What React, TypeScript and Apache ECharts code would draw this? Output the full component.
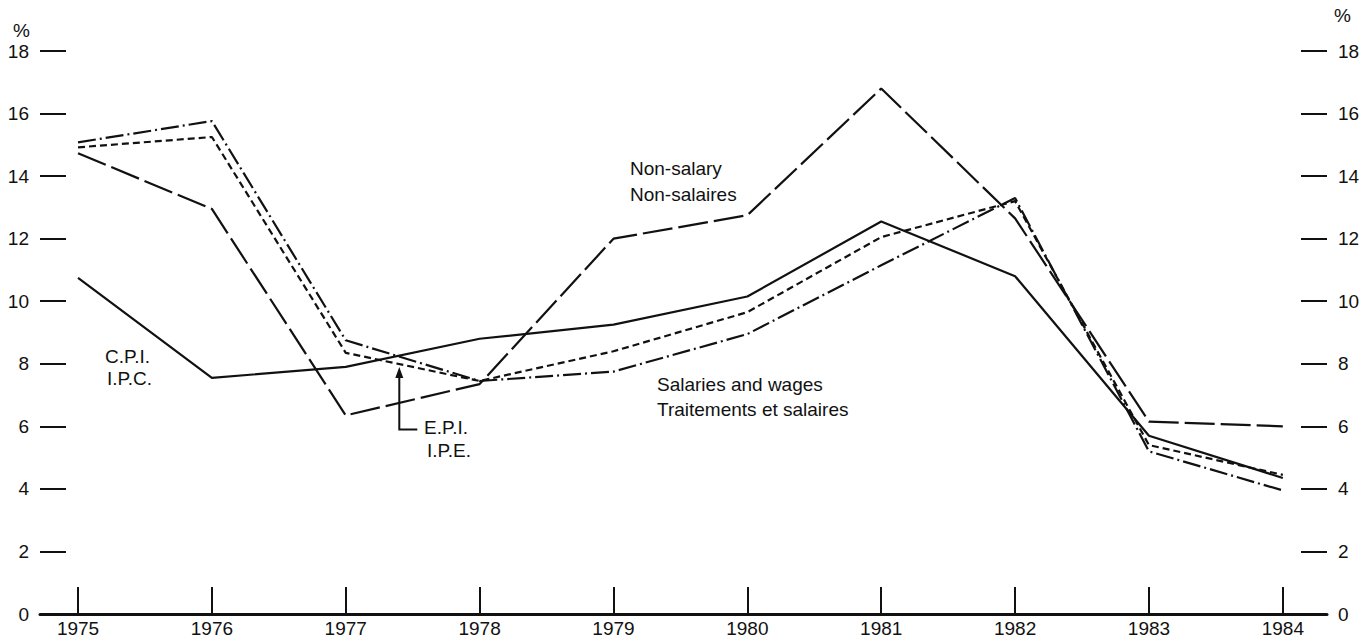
import React, { useEffect, useRef } from "react";
import * as echarts from "echarts";

const years = [1975, 1976, 1977, 1978, 1979, 1980, 1981, 1982, 1983, 1984];
const yTicks = [0, 2, 4, 6, 8, 10, 12, 14, 16, 18];
const cpi = [10.75, 7.55, 7.9, 8.8, 9.25, 10.15, 12.55, 10.8, 5.7, 4.35];
const epi = [14.92, 15.25, 8.35, 7.45, 8.4, 9.65, 12.05, 13.2, 5.4, 4.45];
const salaries = [15.08, 15.76, 8.75, 7.45, 7.75, 8.95, 11.15, 13.3, 5.2, 3.95];
const nonSalary = [14.73, 12.95, 6.35, 7.35, 12.0, 12.75, 16.8, 12.65, 6.15, 6.0];

const FONT = "Liberation Sans, Arial, Helvetica, sans-serif";
const INK = "#111";

const pairs = (vals: number[]) => years.map((y, i) => [y, vals[i]]);

export default function App() {
  const ref = useRef<HTMLDivElement>(null);
  useEffect(() => {
    const chart = echarts.init(ref.current!, null, { renderer: "svg" });
    const lineSeries = (name: string, vals: number[], type: any, width: number) => ({
      name,
      type: "line",
      data: pairs(vals),
      symbol: "none",
      lineStyle: { color: INK, width, type },
      silent: true,
    });
    const yAxisCommon = {
      type: "value",
      min: yTicks[0],
      max: yTicks[yTicks.length - 1],
      interval: 2,
      axisLine: { show: false },
      splitLine: { show: false },
      axisTick: { show: true, inside: true, length: 26, lineStyle: { color: INK, width: 2 } },
      axisLabel: { color: INK, fontSize: 19, fontFamily: FONT, margin: 11 },
    };
    chart.setOption({
      animation: false,
      backgroundColor: "#fff",
      grid: { left: 40, right: 40, top: 51, bottom: 28, containLabel: false },
      xAxis: {
        type: "value",
        min: 1974.716,
        max: 1984.33,
        axisLine: { show: true, lineStyle: { color: INK, width: 3 } },
        axisTick: {
          show: true,
          inside: true,
          length: 27,
          customValues: years,
          lineStyle: { color: INK, width: 2 },
        },
        axisLabel: {
          customValues: years,
          color: INK,
          fontSize: 19,
          fontFamily: FONT,
          margin: 5,
          formatter: (v: number) => String(v),
        },
        splitLine: { show: false },
      },
      yAxis: [
        { ...yAxisCommon, position: "left" },
        { ...yAxisCommon, position: "right" },
      ],
      series: [
        lineSeries("C.P.I.", cpi, "solid", 2.2),
        lineSeries("E.P.I.", epi, [7, 4], 2.2),
        lineSeries("Salaries and wages", salaries, [18, 4, 2, 4], 2.2),
        lineSeries("Non-salary", nonSalary, [30, 6], 2.2),
      ],
    });

    const p = (x: number, y: number) => chart.convertToPixel({ gridIndex: 0 }, [x, y]) as number[];
    const tip = p(1977.4, 7.9);
    const foot = p(1977.4, 5.9);
    const elbow = [foot[0] + 18, foot[1]];
    const txt = (text: string, x: number, y: number) => ({
      type: "text",
      x,
      y,
      style: { text, fill: INK, font: `19px ${FONT}`, textVerticalAlign: "middle" },
      silent: true,
    });
    chart.setOption({
      graphic: [
        txt("%", 13, 30),
        txt("%", 1334, 15),
        txt("Non-salary", 630, 168),
        txt("Non-salaires", 630, 194),
        txt("C.P.I.", 105, 356),
        txt("I.P.C.", 107, 378),
        txt("E.P.I.", 424, 427),
        txt("I.P.E.", 427, 450),
        txt("Salaries and wages", 657, 384),
        txt("Traitements et salaires", 657, 409),
        {
          type: "polyline",
          shape: { points: [[tip[0], tip[1] + 6], foot, elbow] },
          style: { stroke: INK, lineWidth: 2, fill: null },
          silent: true,
        },
        {
          type: "polygon",
          shape: {
            points: [
              [tip[0], tip[1]],
              [tip[0] - 4, tip[1] + 11],
              [tip[0] + 4, tip[1] + 11],
            ],
          },
          style: { fill: INK },
          silent: true,
        },
      ],
    });
    return () => chart.dispose();
  }, []);
  return (
    <div
      ref={ref}
      style={{ position: "fixed", left: 0, top: 0, width: 1367, height: 642, background: "#fff" }}
    />
  );
}
